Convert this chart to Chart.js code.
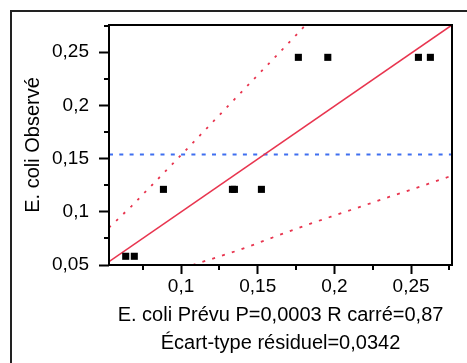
<!DOCTYPE html>
<html>
<head>
<meta charset="utf-8">
<script src="https://cdn.jsdelivr.net/npm/chart.js@4.4.0/dist/chart.umd.min.js"></script>
<style>
  html, body { margin: 0; padding: 0; background: #fff; }
  canvas { display: block; }
</style>
</head>
<body>
<canvas id="myChart" width="467" height="363"></canvas>
<script>
// observed vs predicted values
var predX = [0.0639, 0.0695, 0.0885, 0.1335, 0.1348, 0.1524, 0.1765, 0.1957, 0.2548, 0.2626];
var obsY = [0.0582, 0.0582, 0.1211, 0.1211, 0.1211, 0.1211, 0.2452, 0.2452, 0.2452, 0.2452];

// fit line and mean of Y
var fitX = [0.053, 0.2767];
var fitY = [0.0531, 0.2756];
var meanY = 0.1539;

// confidence curves
var upperX = [0.053, 0.0676, 0.0811, 0.0946, 0.1080, 0.1215, 0.1348, 0.1483, 0.1618, 0.1752, 0.1812];
var upperY = [0.0851, 0.1052, 0.1252, 0.1452, 0.1653, 0.1856, 0.2057, 0.2260, 0.2461, 0.2664, 0.2756];
var lowerX = [0.1075, 0.1226, 0.1354, 0.1481, 0.1605, 0.1730, 0.1856, 0.1978, 0.2107, 0.2235, 0.2361, 0.2487, 0.2615, 0.2741, 0.2767];
var lowerY = [0.0500, 0.0569, 0.0629, 0.0695, 0.0763, 0.0829, 0.0895, 0.0954, 0.1017, 0.1080, 0.1142, 0.1202, 0.1264, 0.1327, 0.1340];

// axes
var xTicks = [0.1, 0.15, 0.2, 0.25];
var xTickLabels = ['0,1', '0,15', '0,2', '0,25'];
var yTicks = [0.05, 0.1, 0.15, 0.2, 0.25];
var yTickLabels = ['0,05', '0,1', '0,15', '0,2', '0,25'];
var xMinor = [0.075, 0.125, 0.175, 0.225, 0.275];
var yMinor = [0.075, 0.125, 0.175, 0.225, 0.275];
var xRange = [0.053, 0.2767];
var yRange = [0.05, 0.2756];

var RED = '#e8354f';
var BLUE = '#3f6ff0';
var FONT = "'Liberation Sans', Arial, sans-serif";

function pairs(xs, ys) {
    return xs.map(function (x, i) { return { x: x, y: ys[i] }; });
}

// outer frame, plot box and minor ticks
var framePlugin = {
    id: 'frame',
    beforeDraw: function (chart) {
        var c = chart.ctx;
        c.save();
        c.strokeStyle = '#222';
        c.lineWidth = 2;
        c.strokeRect(11, 11, 600, 500);
        c.restore();
    },
    afterDraw: function (chart) {
        var c = chart.ctx;
        var a = chart.chartArea;
        var xs = chart.scales.x, ys = chart.scales.y;
        c.save();
        c.strokeStyle = '#000';
        c.lineWidth = 2;
        c.beginPath();
        xMinor.forEach(function (v) {
            var px = Math.round(xs.getPixelForValue(v));
            c.moveTo(px, a.bottom);
            c.lineTo(px, a.bottom + 5);
        });
        yMinor.forEach(function (v) {
            var py = Math.round(ys.getPixelForValue(v));
            c.moveTo(a.left, py);
            c.lineTo(a.left - 5, py);
        });
        c.stroke();
        c.strokeRect(a.left, a.top, a.right - a.left, a.bottom - a.top);
        c.restore();
    }
};

var ctx = document.getElementById('myChart').getContext('2d');

var myChart = new Chart(ctx, {
    type: 'scatter',
    data: {
        datasets: [{
            data: pairs(predX, obsY),
            pointStyle: 'rect',
            pointRadius: 5,
            pointBackgroundColor: '#000',
            pointBorderWidth: 0
        }, {
            data: pairs(fitX, fitY),
            showLine: true,
            borderColor: RED,
            borderWidth: 1.6,
            pointRadius: 0
        }, {
            data: pairs(xRange, [meanY, meanY]),
            showLine: true,
            borderColor: BLUE,
            borderWidth: 2,
            borderDash: [4, 6.3],
            pointRadius: 0
        }, {
            data: pairs(upperX, upperY),
            showLine: true,
            borderColor: RED,
            borderWidth: 1.8,
            borderDash: [2.5, 7.4],
            pointRadius: 0
        }, {
            data: pairs(lowerX, lowerY),
            showLine: true,
            borderColor: RED,
            borderWidth: 1.8,
            borderDash: [3, 7.3],
            pointRadius: 0
        }]
    },
    options: {
        responsive: false,
        animation: false,
        layout: { padding: { top: 25, right: 15, left: 0, bottom: 0 } },
        plugins: {
            legend: { display: false },
            tooltip: { enabled: false }
        },
        scales: {
            x: {
                type: 'linear',
                min: xRange[0],
                max: xRange[1],
                afterBuildTicks: function (axis) {
                    axis.ticks = xTicks.map(function (v) { return { value: v }; });
                },
                afterFit: function (axis) { axis.height = 98; },
                border: { display: false },
                grid: {
                    drawOnChartArea: false,
                    drawTicks: true,
                    tickLength: 9,
                    tickWidth: 2,
                    tickColor: '#000'
                },
                ticks: {
                    padding: 1,
                    color: '#000',
                    font: { family: FONT, size: 19 },
                    maxRotation: 0,
                    callback: function (v, i) { return xTickLabels[i]; }
                },
                title: {
                    display: true,
                    text: ['E. coli Prévu P=0,0003 R carré=0,87', 'Écart-type résiduel=0,0342'],
                    color: '#000',
                    font: { family: FONT, size: 20, lineHeight: 1.415 },
                    padding: { top: 0, bottom: 5.5 }
                }
            },
            y: {
                type: 'linear',
                min: yRange[0],
                max: yRange[1],
                afterBuildTicks: function (axis) {
                    axis.ticks = yTicks.map(function (v) { return { value: v }; });
                },
                afterFit: function (axis) { axis.width = 109; },
                border: { display: false },
                grid: {
                    drawOnChartArea: false,
                    drawTicks: true,
                    tickLength: 10,
                    tickWidth: 2,
                    tickColor: '#000'
                },
                ticks: {
                    padding: 10,
                    color: '#000',
                    font: { family: FONT, size: 19 },
                    callback: function (v, i) { return yTickLabels[i]; }
                },
                title: {
                    display: true,
                    text: 'E. coli Observé',
                    color: '#000',
                    font: { family: FONT, size: 20 },
                    padding: { top: 21, bottom: 0 }
                }
            }
        }
    },
    plugins: [framePlugin]
});
</script>
</body>
</html>
